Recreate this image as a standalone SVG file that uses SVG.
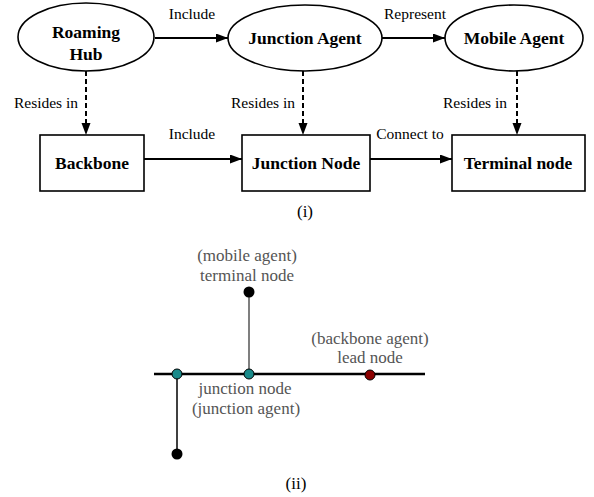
<svg xmlns="http://www.w3.org/2000/svg" width="594" height="497" viewBox="0 0 594 497">
<style>
.node{fill:#fff;stroke:#000;stroke-width:1.6}
.nl{font-family:'Liberation Serif','Times New Roman','DejaVu Serif',serif;font-size:17.5px;font-weight:bold;text-anchor:middle;fill:#000}
.el{font-family:'Liberation Serif','Times New Roman','DejaVu Serif',serif;font-size:15.5px;fill:#000;text-anchor:middle}
.solid{stroke:#000;stroke-width:2;fill:none}
.dash{stroke:#000;stroke-width:2;fill:none;stroke-dasharray:5,3}
.cap{font-family:'Liberation Serif','Times New Roman','DejaVu Serif',serif;font-size:17px;fill:#000;text-anchor:middle}
.gl{font-family:'Liberation Serif','Times New Roman','DejaVu Serif',serif;font-size:17px;fill:#555;text-anchor:middle}
</style>
<defs>
<marker id="ah" markerUnits="userSpaceOnUse" markerWidth="13" markerHeight="10" refX="12" refY="4.5" orient="auto">
<path d="M0,0 L12,4.5 L0,9 z" fill="#000"/>
</marker>
</defs>
<g id="connectors">
<line class="solid" x1="155" y1="38" x2="228" y2="38" marker-end="url(#ah)"/>
<line class="solid" x1="382" y1="38" x2="445" y2="38" marker-end="url(#ah)"/>
<line class="dash" x1="86" y1="71" x2="86" y2="135" marker-end="url(#ah)"/>
<line class="dash" x1="303" y1="71" x2="303" y2="135" marker-end="url(#ah)"/>
<line class="dash" x1="517" y1="71" x2="517" y2="135" marker-end="url(#ah)"/>
<line class="solid" x1="144" y1="159" x2="242" y2="159" marker-end="url(#ah)"/>
<line class="solid" x1="370" y1="159" x2="452" y2="159" marker-end="url(#ah)"/>
<text class="el" x="192" y="19">Include</text>
<text class="el" x="415" y="19">Represent</text>
<text class="el" x="46" y="108">Resides in</text>
<text class="el" x="263" y="108">Resides in</text>
<text class="el" x="475" y="108">Resides in</text>
<text class="el" x="192" y="139">Include</text>
<text class="el" x="410" y="139">Connect to</text>
</g>
<g id="roaming-hub">
<ellipse class="node" cx="86" cy="37" rx="68" ry="34"/>
<text class="nl" x="86" y="38">Roaming</text>
<text class="nl" x="86" y="60">Hub</text>
</g>
<g id="junction-agent">
<ellipse class="node" cx="305" cy="38" rx="77" ry="33"/>
<text class="nl" x="305" y="44">Junction Agent</text>
</g>
<g id="mobile-agent">
<ellipse class="node" cx="514" cy="38" rx="69" ry="33"/>
<text class="nl" x="514" y="44">Mobile Agent</text>
</g>
<g id="backbone">
<rect class="node" x="40" y="135" width="104" height="56"/>
<text class="nl" x="92" y="169">Backbone</text>
</g>
<g id="junction-node">
<rect class="node" x="242" y="135" width="128" height="56"/>
<text class="nl" x="306" y="169">Junction Node</text>
</g>
<g id="terminal-node">
<rect class="node" x="452" y="135" width="133" height="56"/>
<text class="nl" x="518" y="169">Terminal node</text>
</g>
<text class="cap" x="305" y="217">(i)</text>
<g id="part-ii">
<line x1="249" y1="292" x2="249" y2="374" stroke="#555" stroke-width="1.5"/>
<line x1="177" y1="374" x2="177" y2="454" stroke="#000" stroke-width="1.5"/>
<line x1="154" y1="374" x2="425" y2="374" stroke="#000" stroke-width="2.5"/>
<circle cx="249" cy="292" r="5.5" fill="#000"/>
<circle cx="177" cy="454" r="5.5" fill="#000"/>
<circle cx="177" cy="374" r="5" fill="#1a8a8a" stroke="#000" stroke-width="1"/>
<circle cx="249" cy="374" r="5" fill="#1a8a8a" stroke="#000" stroke-width="1"/>
<circle cx="370" cy="375" r="5" fill="#8b0000" stroke="#000" stroke-width="1"/>
<text class="gl" x="247" y="261">(mobile agent)</text>
<text class="gl" x="247" y="281">terminal node</text>
<text class="gl" x="370" y="344">(backbone agent)</text>
<text class="gl" x="370" y="363">lead node</text>
<text class="gl" x="245" y="394">junction node</text>
<text class="gl" x="246" y="414">(junction agent)</text>
</g>
<text class="cap" x="296" y="489">(ii)</text>
</svg>
